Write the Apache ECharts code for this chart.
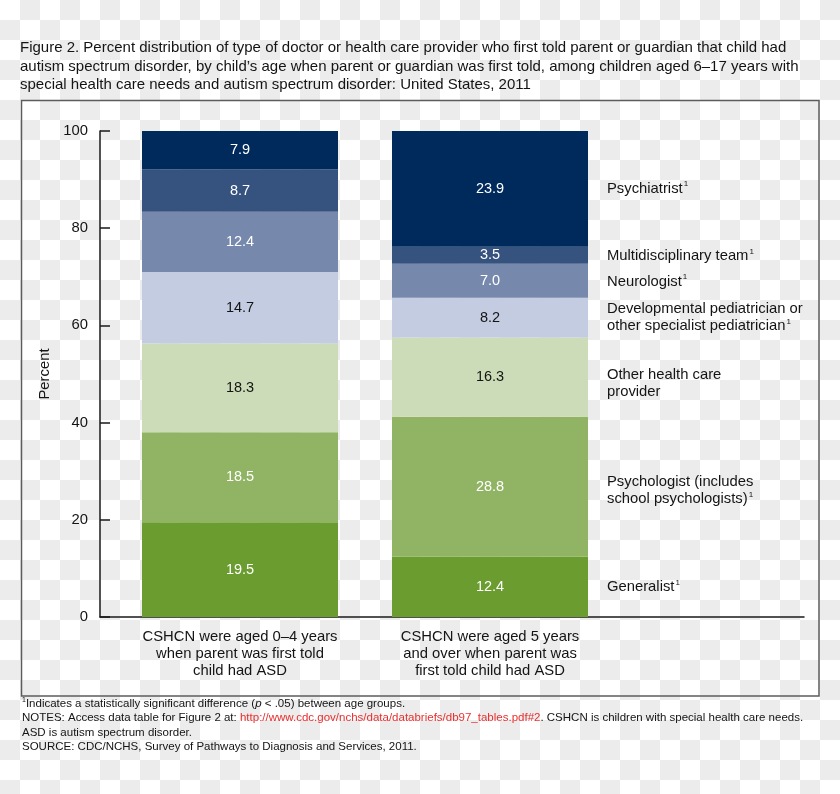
<!DOCTYPE html>
<html>
<head>
<meta charset="utf-8">
<script src="https://cdn.jsdelivr.net/npm/echarts@6/dist/echarts.min.js"></script>
<style>
  html, body { margin: 0; padding: 0; }
  body {
    width: 840px; height: 794px;
    background: repeating-conic-gradient(#ececec 0 25%, #ffffff 0 50%) 0 0 / 40px 40px;
  }
  #c { width: 840px; height: 794px; }
</style>
</head>
<body>
<div id="c"></div>
<script>
// ---------------- data ----------------
const categories = [
  'CSHCN were aged 0–4 years\nwhen parent was first told\nchild had ASD',
  'CSHCN were aged 5 years\nand over when parent was\nfirst told child had ASD'
];
const providers = [
  'Generalist',
  'Psychologist (includes\nschool psychologists)',
  'Other health care\nprovider',
  'Developmental pediatrician or\nother specialist pediatrician',
  'Neurologist',
  'Multidisciplinary team',
  'Psychiatrist'
];
const significant = [true, true, false, true, true, true, true];

const generalist    = [19.5, 12.4];
const psychologist  = [18.5, 28.8];
const otherProvider = [18.3, 16.3];
const developmental = [14.7, 8.2];
const neurologist   = [12.4, 7.0];
const multidiscip   = [8.7, 3.5];
const psychiatrist  = [7.9, 23.9];
const valuesByProvider = [generalist, psychologist, otherProvider, developmental, neurologist, multidiscip, psychiatrist];

const yMin = 0, yMax = 100, yInterval = 20;

const titleText = 'Figure 2. Percent distribution of type of doctor or health care provider who first told parent or guardian that child had\nautism spectrum disorder, by child\u2019s age when parent or guardian was first told, among children aged 6\u201317 years with\nspecial health care needs and autism spectrum disorder: United States, 2011';

// ---------------- styles ----------------
const FONT = '"Liberation Sans", Arial, Helvetica, sans-serif';
const TXT = '#141414';
const colors = ['#6a9c30', '#91b464', '#cddcb8', '#c3cce0', '#7788ad', '#36537f', '#002a5c'];
const labelColors = ['#ffffff', '#ffffff', '#141414', '#141414', '#ffffff', '#ffffff', '#ffffff'];
const rightLabelNudge = [0, 4, 6, 0, 1, 1, 0];

const chart = echarts.init(document.getElementById('c'), null, { renderer: 'canvas' });

const barSeries = providers.map((name, i) => ({
  type: 'bar',
  name: name,
  stack: 'total',
  xAxisIndex: 1,
  yAxisIndex: 1,
  barWidth: 196,
  data: valuesByProvider[i],
  itemStyle: { color: colors[i] },
  label: {
    show: true,
    position: 'inside',
    color: labelColors[i],
    fontSize: 14.5,
    fontFamily: FONT,
    formatter: p => Number(p.value).toFixed(1)
  },
  silent: true,
  emphasis: { disabled: true }
}));

// right-hand labels, placed at the centre of each segment of the second bar
let cum = 0;
const rightData = providers.map((name, i) => {
  const v = valuesByProvider[i][1];
  const center = cum + v / 2;
  cum += v;
  const lines = name.split('\n');
  const last = lines.length - 1;
  const text = lines.map((l, k) => (k === last && significant[i]) ? l + '{s|1}' : l).join('\n');
  return {
    value: [1, center],
    label: { formatter: text, offset: [0, rightLabelNudge[i]] }
  };
});

const rightSeries = {
  type: 'scatter',
  xAxisIndex: 1,
  yAxisIndex: 1,
  symbolSize: 0,
  itemStyle: { color: TXT, opacity: 1 },
  silent: true,
  data: rightData,
  label: {
    show: true,
    position: 'right',
    distance: 117,
    fontSize: 14.8,
    fontFamily: FONT,
    color: TXT,
    opacity: 1,
    lineHeight: 17,
    align: 'left',
    rich: {
      s: { fontSize: 8, lineHeight: 8, verticalAlign: 'top', color: TXT, fontFamily: FONT, padding: [0, 0, 0, 1] }
    }
  },
  emphasis: { disabled: true },
  z: 5
};

const option = {
  backgroundColor: 'transparent',
  animation: false,
  title: {
    text: titleText,
    left: 20,
    top: 39,
    padding: 0,
    textStyle: { fontSize: 15, fontWeight: 'normal', color: TXT, fontFamily: FONT, lineHeight: 18.5 }
  },
  grid: [
    { left: 100, right: 36, top: 131, bottom: 177 },
    { left: 115, width: 500, top: 131, bottom: 177 }
  ],
  xAxis: [
    {
      gridIndex: 0, type: 'value', min: 0, max: 1,
      axisLine: { show: true, lineStyle: { color: '#1a1a1a', width: 1.5 } },
      axisTick: { show: false }, axisLabel: { show: false }, splitLine: { show: false }
    },
    {
      gridIndex: 1, type: 'category', data: categories,
      axisLine: { show: false }, axisTick: { show: false },
      axisLabel: { fontSize: 14.8, fontFamily: FONT, color: TXT, lineHeight: 17, margin: 11, interval: 0 }
    }
  ],
  yAxis: [
    {
      gridIndex: 0, type: 'value', min: yMin, max: yMax, interval: yInterval,
      name: 'Percent', nameLocation: 'middle', nameRotate: 90, nameGap: 41,
      nameTextStyle: { fontSize: 14.8, fontFamily: FONT, color: TXT },
      axisLine: { show: true, lineStyle: { color: '#1a1a1a', width: 1.5 } },
      axisTick: { show: true, inside: true, length: 10, lineStyle: { color: '#1a1a1a', width: 1.5 } },
      axisLabel: { fontSize: 14.8, fontFamily: FONT, color: TXT, margin: 12 },
      splitLine: { show: false }
    },
    {
      gridIndex: 1, type: 'value', min: yMin, max: yMax, show: false, splitLine: { show: false }
    }
  ],
  series: barSeries.concat([rightSeries]),
  graphic: [
    {
      type: 'rect', silent: true,
      shape: { x: 21.5, y: 100.5, width: 797.5, height: 595.5 },
      style: { fill: 'none', stroke: '#5c5c5c', lineWidth: 1.5 }
    },
    {
      type: 'text', left: 22, top: 697, silent: true,
      style: {
        text: '{s|1}Indicates a statistically significant difference ({i|p} < .05) between age groups.',
        font: '11.5px ' + FONT, fill: TXT, lineHeight: 14,
        rich: {
          s: { fontSize: 7, lineHeight: 7, verticalAlign: 'top', fill: TXT },
          i: { fontStyle: 'italic', fontSize: 11.5, fill: TXT }
        }
      }
    },
    {
      type: 'text', left: 22, top: 711, silent: true,
      style: {
        text: 'NOTES: Access data table for Figure 2 at: {r|http://www.cdc.gov/nchs/data/databriefs/db97_tables.pdf#2}. CSHCN is children with special health care needs.\nASD is autism spectrum disorder.\nSOURCE: CDC/NCHS, Survey of Pathways to Diagnosis and Services, 2011.',
        font: '11.5px ' + FONT, fill: TXT, lineHeight: 14.5,
        rich: { r: { fill: '#e8302f', fontSize: 11.5 } }
      }
    }
  ]
};

chart.setOption(option);
</script>
</body>
</html>
